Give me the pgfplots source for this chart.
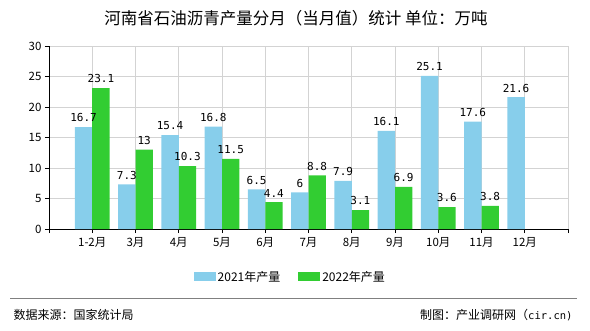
\documentclass[border=0pt]{standalone}
\usepackage{fontspec}
\setmainfont{Noto Sans CJK SC}
\setmonofont{DejaVu Sans Mono}
\usepackage{pgfplots}
\pgfplotsset{compat=1.18}
\definecolor{c2021}{HTML}{87CEEB}
\definecolor{c2022}{HTML}{32CD32}
\definecolor{gridc}{HTML}{D3D3D3}
\begin{document}
\begin{tikzpicture}[x=1pt,y=1pt]
\useasboundingbox (0,0) rectangle (590,330);
\node[font=\fontsize{16.5}{19}\selectfont] at (296,312) {河南省石油沥青产量分月（当月值）统计\ 单位：万吨};
\begin{axis}[
  at={(49pt,101pt)}, anchor=south west,
  scale only axis, width=519pt, height=183pt,
  xmin=-1, xmax=11, ymin=0, ymax=30,
  axis x line*=bottom, axis y line*=left,
  axis line style={black, thick},
  xtick={-1,0,1,2,3,4,5,6,7,8,9,10,11},
  xticklabels={,1-2月,3月,4月,5月,6月,7月,8月,9月,10月,11月,12月,},
  ytick={0,5,10,15,20,25,30},
  tick align=outside, major tick length=4pt,
  tick style={black, thick},
  grid=major, grid style={gridc, line width=0.8pt},
  ticklabel style={font=\fontsize{11.5}{13}\selectfont},
  /pgf/number format/assume math mode=true,
  x tick label style={yshift=-1pt},
  ybar, bar width=0.4,
  point meta=explicit symbolic,
  nodes near coords={\pgfplotspointmeta},
  every node near coord/.append style={font=\ttfamily\fontsize{11}{12}\selectfont, yshift=1.5pt, black},
  legend style={at={(0.465,-0.262)}, anchor=center, draw=none, fill=none,
    legend columns=2, font=\fontsize{12}{14}\selectfont,
    /tikz/every even column/.append style={column sep=16pt},
    inner sep=0pt},
  legend cell align=left,
]
\addplot[fill=c2021, draw=none, bar shift=-0.2,
  legend image code/.code={\fill[c2021] (0pt,-4.5pt) rectangle (22pt,4.5pt);}]
  coordinates {(0,16.7)[16.7] (1,7.3)[7.3] (2,15.4)[15.4] (3,16.8)[16.8] (4,6.5)[6.5] (5,6)[6] (6,7.9)[7.9] (7,16.1)[16.1] (8,25.1)[25.1] (9,17.6)[17.6] (10,21.6)[21.6]};
\addlegendentry{2021年产量}
\addplot[fill=c2022, draw=none, bar shift=0.2,
  legend image code/.code={\fill[c2022] (0pt,-4.5pt) rectangle (22pt,4.5pt);}]
  coordinates {(0,23.1)[23.1] (1,13)[13] (2,10.3)[10.3] (3,11.5)[11.5] (4,4.4)[4.4] (5,8.8)[8.8] (6,3.1)[3.1] (7,6.9)[6.9] (8,3.6)[3.6] (9,3.8)[3.8]};
\addlegendentry{2022年产量}
\end{axis}
\draw[gray, line width=0.8pt] (10,32) -- (577,32);
\node[anchor=west, font=\fontsize{12}{14}\selectfont] at (10,15) {数据来源：国家统计局};
\node[anchor=east, font=\fontsize{12}{14}\selectfont] at (576,15) {制图：产业调研网（{\ttfamily\fontsize{10.5}{12}\selectfont cir.cn)}};
\end{tikzpicture}
\end{document}
